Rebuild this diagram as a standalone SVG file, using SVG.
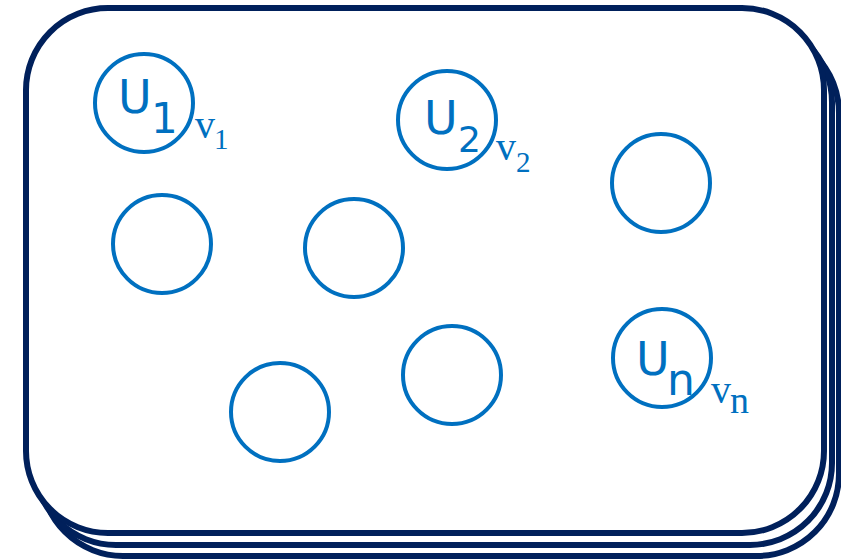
<svg xmlns="http://www.w3.org/2000/svg" width="841" height="560" viewBox="0 0 841 560">
<style>
.card{fill:#fff;stroke:#00205B;stroke-width:6}
.node{fill:none;stroke:#0070C0;stroke-width:4}
.u{font-family:"DejaVu Sans",Verdana,sans-serif;fill:#0070C0}
.v{font-family:"Liberation Serif","Times New Roman",serif;fill:#0070C0}
</style>
<g id="stack">
<rect class="card" x="41" y="31" width="798" height="525" rx="82" ry="82"/>
<rect class="card" x="34" y="20" width="798" height="525" rx="82" ry="82"/>
<rect class="card" x="26" y="8" width="798" height="525" rx="82" ry="82"/>
</g>
<g id="connectors"></g>
<g id="n1"><circle class="node" cx="144" cy="103" r="49"/>
<text class="u" x="118" y="113" font-size="46">U</text><text class="u" x="151" y="133" font-size="42">1</text>
<text class="v" x="195" y="138" font-size="40">v</text><text class="v" x="214" y="149" font-size="29">1</text></g>
<g id="n2"><circle class="node" cx="447" cy="120" r="49"/>
<text class="u" x="424" y="134" font-size="46">U</text><text class="u" x="458" y="152" font-size="36">2</text>
<text class="v" x="496" y="160" font-size="40">v</text><text class="v" x="516" y="172" font-size="29">2</text></g>
<g id="n3"><circle class="node" cx="661" cy="183" r="49"/></g>
<g id="n4"><circle class="node" cx="162" cy="244" r="49"/></g>
<g id="n5"><circle class="node" cx="354" cy="248" r="49"/></g>
<g id="n6"><circle class="node" cx="280" cy="412" r="49"/></g>
<g id="n7"><circle class="node" cx="452" cy="375" r="49"/></g>
<g id="nn"><circle class="node" cx="662" cy="358" r="49"/>
<text class="u" x="636" y="375" font-size="46">U</text><text class="u" x="667" y="395" font-size="44">n</text>
<text class="v" x="711" y="403" font-size="40">v</text><text class="v" x="730" y="413" font-size="38">n</text></g>
</svg>
